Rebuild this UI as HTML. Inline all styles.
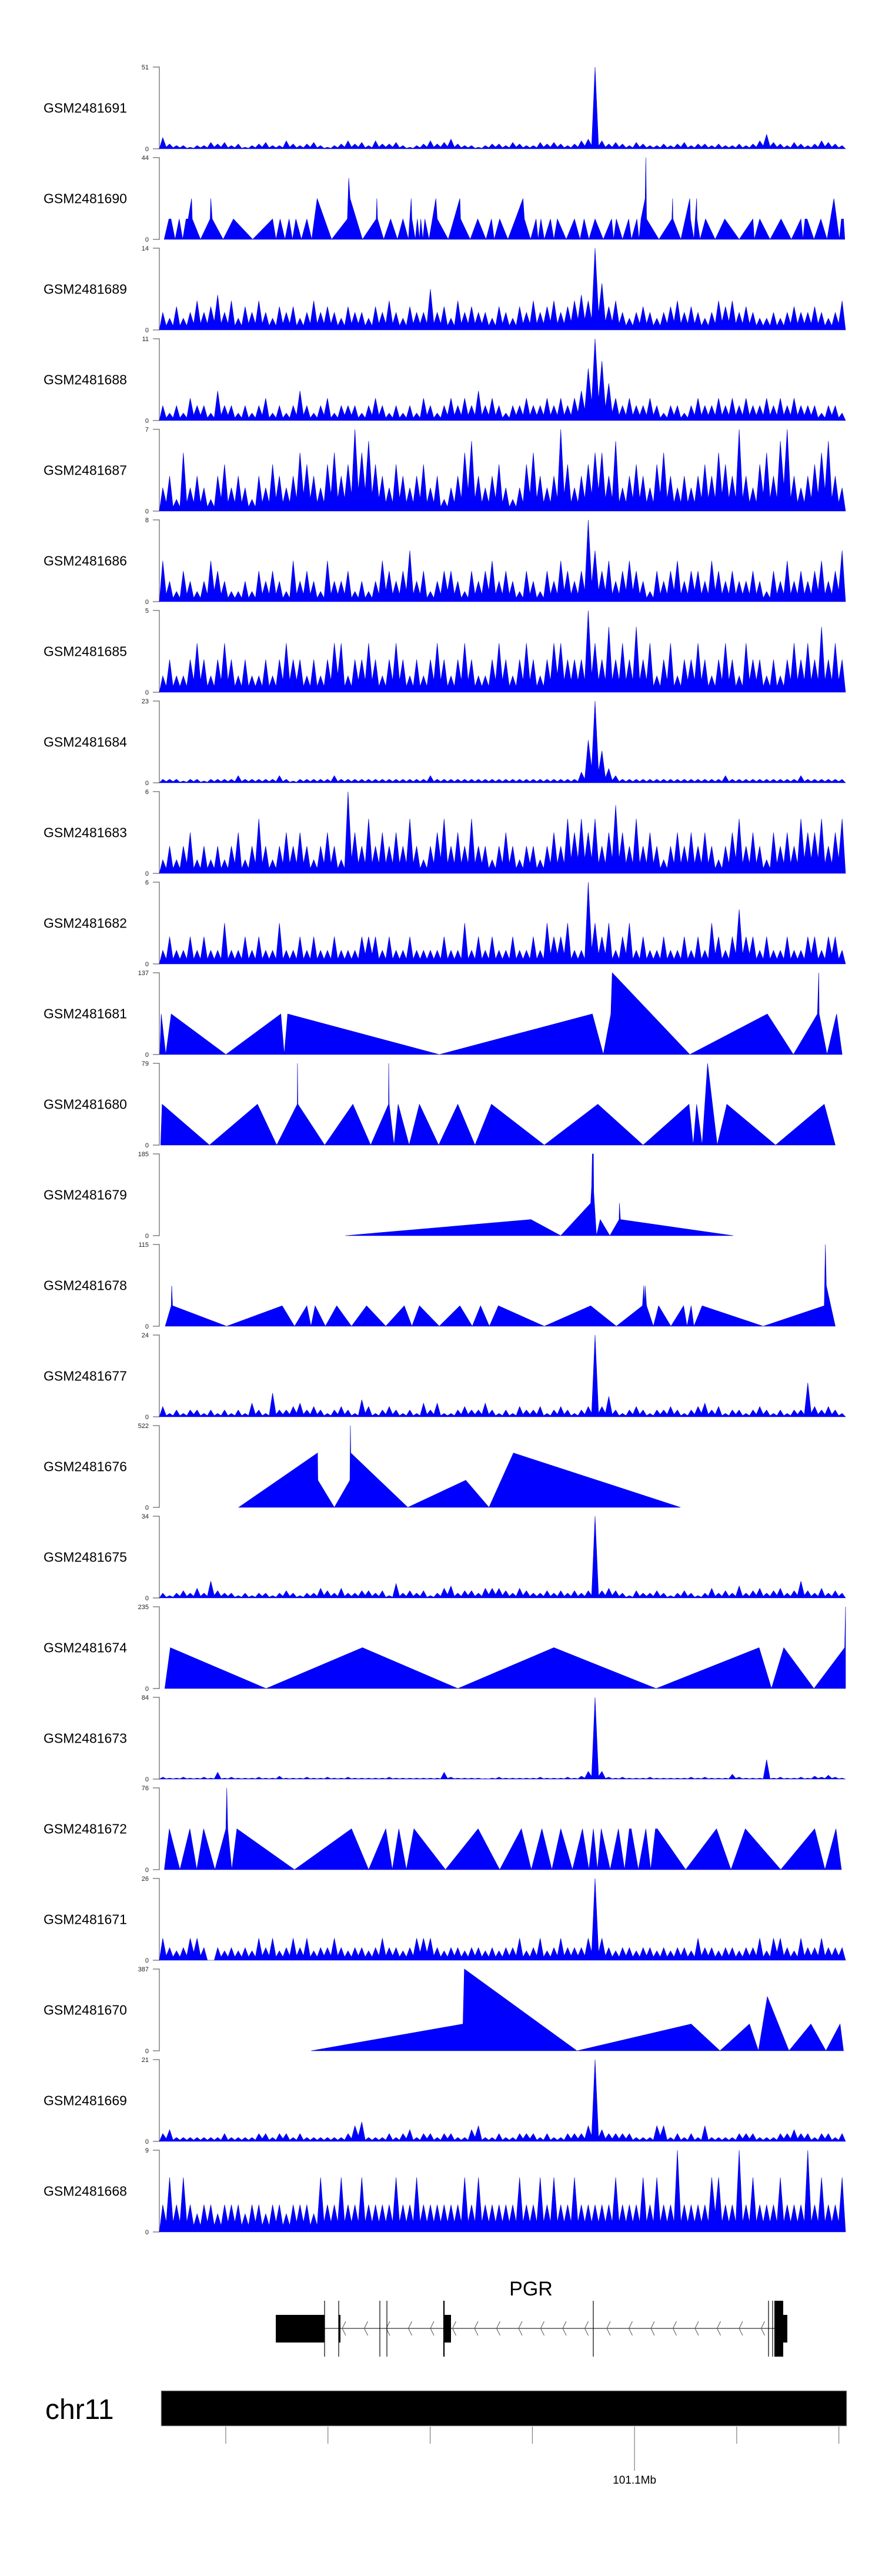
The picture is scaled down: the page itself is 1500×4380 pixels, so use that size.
<!DOCTYPE html>
<html><head><meta charset="utf-8">
<style>
html,body{margin:0;padding:0;background:#fff;}
svg{display:block;font-family:"Liberation Sans",Arial,sans-serif;}
</style></head>
<body>
<svg id="chart" width="1500" height="4380" viewBox="0 0 1500 4380" xmlns="http://www.w3.org/2000/svg">
<g id="tracks"></g>
<g id="gene"></g>
<g id="ideo"></g>
</svg>
<script>
// ---------- data ----------
const sampleNames = ["GSM2481691","GSM2481690","GSM2481689","GSM2481688","GSM2481687","GSM2481686","GSM2481685","GSM2481684","GSM2481683","GSM2481682","GSM2481681","GSM2481680","GSM2481679","GSM2481678","GSM2481677","GSM2481676","GSM2481675","GSM2481674","GSM2481673","GSM2481672","GSM2481671","GSM2481670","GSM2481669","GSM2481668"];
const trackMax = [51,44,14,11,7,8,5,23,6,6,137,79,185,115,24,522,34,235,84,76,26,387,21,9];

// dense binned coverage (100 bins across window)
const cov691 = [7,3,2,2,1,2,2,4,3,4, 2,3,1,2,3,4,2,2,5,3, 2,3,4,2,1,2,3,5,3,4, 2,5,3,3,4,2,1,2,3,5, 3,4,6,3,2,2,1,2,3,3, 2,4,3,2,2,4,3,4,3,2, 3,5,6,51,5,3,4,3,2,4, 3,2,2,3,2,3,4,2,3,3, 2,3,2,2,3,2,3,5,9,4, 3,2,4,3,2,3,5,4,3,2];
const cov689 = [3,2,4,2,3,5,3,4,6,3, 5,2,4,3,5,3,2,4,3,4, 2,3,5,3,4,3,2,4,3,3, 2,4,3,5,3,2,4,3,3,7, 3,4,2,5,3,4,3,3,2,4, 3,2,4,3,5,3,4,5,3,4, 5,6,5,14,8,4,5,3,2,3, 4,3,2,3,4,5,3,4,3,2, 3,5,4,5,3,4,3,2,2,3, 2,3,4,3,3,4,3,2,3,5];
const cov688 = [2,1,2,1,3,2,2,1,4,2, 2,1,2,1,2,3,1,2,1,2, 4,2,1,2,3,1,2,2,2,1, 2,3,2,1,2,1,2,1,3,2, 1,2,3,2,3,2,4,2,3,2, 1,2,2,3,2,2,3,2,3,2, 3,4,7,11,8,5,3,2,3,2, 2,3,2,1,2,2,1,2,3,2, 2,3,2,3,2,3,2,2,3,2, 3,2,3,2,2,2,1,2,2,1];
const cov687 = [2,3,1,5,2,3,2,1,3,4, 2,3,2,1,3,2,4,3,2,3, 5,4,3,2,4,5,3,4,7,5, 6,4,3,2,4,3,2,3,4,2, 3,1,2,3,5,6,3,2,3,4, 2,1,2,4,5,3,2,3,7,4, 2,3,4,5,5,3,6,2,3,4, 3,2,4,5,3,2,3,2,3,4, 3,5,4,3,7,3,2,4,5,3, 6,7,3,2,3,4,5,6,3,2];
const cov686 = [4,2,1,3,2,1,2,4,3,2, 1,1,2,1,3,2,3,2,1,4, 2,3,2,1,4,2,2,3,1,2, 1,2,4,3,2,3,5,2,3,1, 2,3,3,2,1,3,2,3,4,2, 3,2,1,3,2,1,3,2,4,3, 2,3,8,5,3,4,2,3,4,3, 2,1,3,2,3,4,2,3,3,2, 4,3,2,3,2,2,3,2,1,3, 2,4,2,3,2,3,4,2,3,5];
const cov685 = [1,2,1,1,2,3,2,1,2,3, 2,1,2,1,1,2,1,2,3,2, 2,1,2,1,2,3,3,1,2,2, 3,2,1,2,3,2,1,2,1,2, 3,2,1,2,3,2,1,1,2,3, 2,1,2,3,2,1,2,3,3,2, 2,2,5,3,2,4,2,3,2,4, 2,3,1,2,3,1,2,2,3,2, 1,2,3,2,1,3,2,2,1,2, 1,2,3,2,3,2,4,2,3,2];
const cov684 = [1,1,1,0.5,1,1,0.5,1,1,1, 1,2,1,1,1,1,1,2,1,0.5, 1,1,1,1,1,2,1,1,1,1, 1,1,1,1,1,1,1,1,1,2, 1,1,1,1,1,1,1,1,1,1, 1,1,1,1,1,1,1,1,1,1, 1,3,12,23,9,4,2,1,1,1, 1,1,1,1,1,1,1,1,1,1, 1,1,2,1,1,1,1,1,1,1, 1,1,1,2,1,1,1,1,1,1];
const cov683 = [1,2,1,2,3,1,2,1,2,1, 2,3,1,2,4,2,1,2,3,2, 3,2,1,2,3,2,1,6,3,2, 4,2,3,2,3,2,4,2,1,2, 3,4,2,3,2,4,2,2,1,2, 3,2,1,2,2,1,2,3,2,4, 3,4,3,4,2,3,5,3,2,4, 2,3,2,1,2,3,2,3,2,3, 2,1,2,3,4,2,3,2,1,3, 2,3,2,4,3,3,4,2,3,4];
const cov682 = [1,2,1,1,2,1,2,1,1,3, 1,1,2,1,2,1,1,3,1,1, 2,1,2,1,1,2,1,1,1,2, 2,2,1,2,1,1,2,1,1,1, 1,2,1,1,3,1,2,1,2,1, 1,2,1,1,2,1,3,2,2,3, 1,1,6,3,2,3,1,2,3,1, 2,1,1,2,1,1,2,1,2,1, 3,2,1,2,4,2,2,1,2,1, 1,2,1,1,2,2,1,2,2,1];
const cov677 = [3,1,2,1,2,2,1,2,1,2, 1,2,1,4,2,1,7,2,2,3, 4,2,3,2,1,2,3,2,1,5, 3,1,2,3,2,1,2,1,4,2, 4,1,1,2,3,2,2,4,2,1, 2,1,3,2,2,3,1,2,3,2, 1,2,3,24,3,6,2,1,2,3, 2,1,2,2,3,2,1,2,3,4, 2,3,1,2,2,1,2,3,2,1, 2,1,2,2,10,3,2,3,2,1];
const cov675 = [2,1,2,3,2,4,2,7,3,2, 2,1,2,1,2,2,1,2,3,2, 1,2,2,4,3,2,4,2,2,3, 3,2,3,1,6,2,3,2,3,1, 2,4,5,2,3,3,2,4,4,4, 3,2,4,3,2,2,3,2,3,2, 3,2,3,34,3,4,3,2,1,3, 2,2,3,2,1,2,3,2,1,2, 4,2,3,2,5,2,3,4,2,3, 4,2,3,7,3,2,4,2,3,2];
const cov673 = [2,1,1,2,1,1,2,1,7,1, 2,1,1,1,2,1,1,3,1,1, 1,2,1,1,2,1,1,2,1,1, 1,1,1,2,1,1,1,1,1,1, 1,7,2,1,1,1,1,0.5,1,2, 1,1,1,1,1,2,1,1,1,2, 1,3,8,84,8,2,1,2,1,1, 1,2,1,1,1,1,1,2,1,2, 1,1,1,5,2,1,1,1,20,1, 2,1,1,2,1,3,2,4,2,1];
const cov671 = [7,4,3,4,7,7,4,0,4,3, 4,3,4,3,7,4,7,3,4,7, 4,7,3,4,4,7,4,3,4,4, 3,4,7,4,4,3,4,7,7,7, 4,3,4,4,3,4,4,3,4,3, 4,4,7,3,4,7,3,4,7,4, 4,4,7,26,7,4,3,4,4,3, 4,4,3,4,3,4,4,3,7,4, 4,3,4,4,3,4,4,7,3,7, 7,4,3,7,4,4,7,4,4,4];
const cov669 = [2,3,1,1,1,1,1,1,1,2, 1,1,1,1,2,2,1,2,2,1, 2,1,1,1,1,1,1,2,4,5, 1,1,1,2,1,2,3,1,2,2, 1,2,2,1,1,3,4,1,1,2, 1,1,2,2,2,1,2,1,1,2, 2,2,4,21,3,2,2,2,2,1, 1,1,4,4,1,2,1,2,1,4, 1,1,1,1,2,2,2,1,1,1, 2,2,3,2,2,1,2,2,1,2];
const cov668 = [3,6,3,6,3,2,3,3,2,3, 3,3,2,3,3,2,3,3,2,3, 3,3,2,6,3,3,6,3,3,6, 3,3,3,3,6,3,3,6,3,3, 3,3,3,3,6,3,6,3,3,3, 3,3,6,3,3,6,3,6,3,3, 6,3,3,3,3,3,6,3,3,3, 6,3,6,3,3,9,3,3,3,3, 6,6,3,3,9,3,6,3,3,3, 6,3,3,3,9,3,6,3,3,6];

// sparse tracks: vertex positions (0-1000 window units) and values
const pos690 = [7,14,17,23,29,34,39,42,47,48,60,74,75,77,93,108,136,165,170,176,183,189,194,199,207,215,222,230,251,274,276,278,296,316,317,318,327,337,347,355,363,367,368,373,376,379,381,384,387,393,403,405,421,438,439,453,464,476,484,488,496,508,519,530,532,541,549,552,556,561,570,575,580,593,605,613,619,626,635,647,659,662,666,675,684,688,696,699,702,708,709,710,728,747,748,748.5,760,773,774,779,783,783.5,788,796,810,824,845,865,867,875,890,906,921,935,938,941,944,954,964,973,983,987,991,994,997,999];
const val690 = [0,11,11,0,11,0,11,11,22,11,0,11,22,11,0,11,0,11,0,11,0,11,0,11,0,11,0,22,0,11,33,22,0,11,22,11,0,11,0,11,0,22,11,0,11,0,11,0,11,0,22,11,0,22,11,0,11,0,11,0,11,0,11,22,11,0,11,0,11,0,11,0,11,0,11,0,11,0,11,0,11,0,11,0,11,0,11,0,11,22,44,11,0,11,22,11,0,22,11,0,22,11,0,11,0,11,0,11,0,11,0,11,0,11,0,11,11,0,11,0,22,11,0,11,11,0];
const pos681 = [0.7,2.7,9.3,17.3,97,177,182,187,408,631,647,658,660,773,886,924,959,961,961.5,973,987,995];
const val681 = [0,68,0,68,0,68,0,68,0,68,0,68,137,0,68,0,68,137,68,0,68,0];
const pos680 = [2,4,73,143,171,201,201.3,202,241,282,308,334,334.2,335,342,348,364,379,407,435,460,484,561,639,705,772,778,783,791,799,813,827,898,969,985];
const val680 = [0,39.5,0,39.5,0,39.5,79,39.5,0,39.5,0,39.5,79,39.5,0,39.5,0,39.5,0,39.5,0,39.5,0,39.5,0,39.5,0,39.5,0,79,0,39.5,0,39.5,0];
const pos679 = [271,541.5,585,628.6,630,631,632.6,633,637,642.5,656.5,670,670.4,672,836.5];
const val679 = [0,36.5,0,73.5,111,185,185,99,0,36.5,0,36.5,73.5,36.5,0];
const pos678 = [8.6,17.3,18,19.3,98,179,197,215,221,227,242,258.5,280,302,330,357,368,379,408,438,456,468,481,494,561,628.5,666,704,706,707,708,710,720,727.6,745.5,764,769,775,779,791,880,969,970.6,972,985];
const val678 = [0,28.8,57,28.8,0,28.8,0,28.8,0,28.8,0,28.8,0,28.8,0,28.8,0,28.8,0,28.8,0,28.8,0,28.8,0,28.8,0,28.8,57,28.8,57,28.8,0,28.8,0,28.8,0,28.8,0,28.8,0,28.8,115,57,0];
const pos676 = [115.6,230.6,231,255,277.7,278.4,279,362,446.5,480.4,516,759.5];
const val676 = [0,347.5,173,0,173,522,347.5,0,173,0,347.5,0];
const pos674 = [8,16,155.5,296,435,575,724,874,892,910,954,998.7,1000,1000];
const val674 = [0,117.5,0,117.5,0,117.5,0,117.5,0,117.5,0,117.5,235,0];
const pos672 = [7.3,14.6,30,44.5,54.5,64.5,81,97,98.3,99.7,105.6,113,197,280,305,330,339.5,349,360,371,417,464.5,496,527.6,542,557.5,572,585,602,616.6,626,632.5,638.5,644,657,669,678,685,687.7,698,709,716,723,725.6,767,812,833,854,905.6,955,970,986,994];
const val672 = [0,38,0,38,0,38,0,38,76,38,0,38,0,38,0,38,0,38,0,38,0,38,0,38,0,38,0,38,0,38,0,38,0,38,0,38,0,38,38,0,38,0,38,38,0,38,0,38,0,38,0,38,0];
const pos670 = [221,442.5,444.5,608.6,775,817,860,873,886,917.6,949.5,971.4,992,997];
const val670 = [0,127,387,0,127,0,127,0,256.5,0,127,0,127,0];

const trackSeries = [
  {bins:cov691},{pos:pos690,val:val690},{bins:cov689},{bins:cov688},{bins:cov687},{bins:cov686},
  {bins:cov685},{bins:cov684},{bins:cov683},{bins:cov682},{pos:pos681,val:val681},{pos:pos680,val:val680},
  {pos:pos679,val:val679},{pos:pos678,val:val678},{bins:cov677},{pos:pos676,val:val676},{bins:cov675},
  {pos:pos674,val:val674},{bins:cov673},{pos:pos672,val:val672},{bins:cov671},{pos:pos670,val:val670},
  {bins:cov669},{bins:cov668}
];

// genome axis (kb)
const genomeStartKb = 101007.0;
const genomeEndKb = 101141.3;
const genomeTicksKb = [101020,101040,101060,101080,101100,101120,101140];
const genomeTickLabels = ["","","","","101.1Mb","",""];
// ---------- layout ----------
const NS = "http://www.w3.org/2000/svg";
const X0 = 271, X1 = 1438, TOP0 = 114, STEP = 154, H = 139;
function xw(p){ return X0 + p/1000*(X1-X0); }
function gx(kb){ return X0 + (kb-genomeStartKb)/(genomeEndKb-genomeStartKb)*(X1-X0); }
function mk(tag, attrs, parent){
  const e = document.createElementNS(NS, tag);
  for (const k in attrs) e.setAttribute(k, attrs[k]);
  parent.appendChild(e); return e;
}
const gT = document.getElementById('tracks');
sampleNames.forEach((name, i) => {
  const top = TOP0 + i*STEP, base = top + H, max = trackMax[i];
  const yv = v => base - v/max*H;
  const g = mk('g', {}, gT);
  
  
  const lab = mk('text', {x:74, y:top+H/2+8, 'font-size':23, fill:'#000'}, g);
  lab.textContent = name;
  
  
  const ax = mk('path', {d:`M260 ${top}H271V${base}H260`, fill:'none', stroke:'#808080', 'stroke-width':1.5}, g);
  
  
  const tMax = mk('text', {x:253, y:top+4, 'font-size':11, 'text-anchor':'end', fill:'#222'}, g);
  tMax.textContent = String(max);
  
  
  const t0 = mk('text', {x:253, y:base+4, 'font-size':11, 'text-anchor':'end', fill:'#222'}, g);
  t0.textContent = "0";
  
  
  const s = trackSeries[i];
  let pts = [];
  if (s.bins) {
    const w = 1000 / s.bins.length;
    pts.push([xw(0), base]);
    s.bins.forEach((v, j) => {
      const prev = j > 0 ? s.bins[j-1] : 0;
      const valley = 0.35 * Math.min(prev, v);
      pts.push([xw(j*w), yv(valley)]);
      pts.push([xw((j+0.5)*w), yv(v)]);
    });
    pts.push([xw(1000), base]);
  } else {
    pts.push([xw(s.pos[0]), base]);
    s.pos.forEach((p, j) => pts.push([xw(p), yv(s.val[j])]));
    pts.push([xw(s.pos[s.pos.length-1]), base]);
  }
  const poly = mk('polygon', {points: pts.map(p => p[0].toFixed(1)+','+p[1].toFixed(1)).join(' '), fill:'#0000ff', stroke:'#0000cc', 'stroke-width':0.6, 'stroke-linejoin':'miter'}, g);
  
  
});

// ---------- gene model ----------
const gG = document.getElementById('gene');
const gl = mk('text', {x:903, y:3903, 'font-size':34, 'text-anchor':'middle', fill:'#000'}, gG);
gl.textContent = "PGR";


const intron = mk('line', {x1:552, y1:3959, x2:1317, y2:3959, stroke:'#333', 'stroke-width':1.2}, gG);


for (let x = 582; x < 1300; x += 37.5) {
  const c = mk('path', {d:`M${x+6} 3947L${x} 3959L${x+6} 3971`, fill:'none', stroke:'#555', 'stroke-width':1}, gG);
  
  
}
const exRects = [[469,3936,83,47],[576,3936,3,47],[755,3936,12,47],[1317,3912,15,95],[1332,3936,7,47]];
exRects.forEach(r => {
  const e = mk('rect', {x:r[0], y:r[1], width:r[2], height:r[3], fill:'#000'}, gG);
  
  
});
[552,576,646,658,755,1009,1307,1314].forEach(x => {
  const l = mk('line', {x1:x, y1:3912, x2:x, y2:4007, stroke:'#000', 'stroke-width':x===755?2.2:1.2}, gG);
  
  
});

// ---------- chromosome ----------
const gI = document.getElementById('ideo');
const cl = mk('text', {x:77, y:4113, 'font-size':48, fill:'#000'}, gI);
cl.textContent = "chr11";


const bar = mk('rect', {x:274, y:4065, width:1166, height:60, fill:'#000', stroke:'#bbb', 'stroke-width':1}, gI);


genomeTicksKb.forEach((kb, j) => {
  const x = gx(kb);
  const long = genomeTickLabels[j] !== "";
  const t = mk('line', {x1:x, y1:4126, x2:x, y2:long?4201:4155, stroke:'#666', 'stroke-width':1}, gI);
  
  
  if (long) {
    const tl = mk('text', {x:x, y:4223, 'font-size':19, 'text-anchor':'middle', fill:'#000'}, gI);
    tl.textContent = genomeTickLabels[j];
    
    
  }
});
</script>
</body></html>
